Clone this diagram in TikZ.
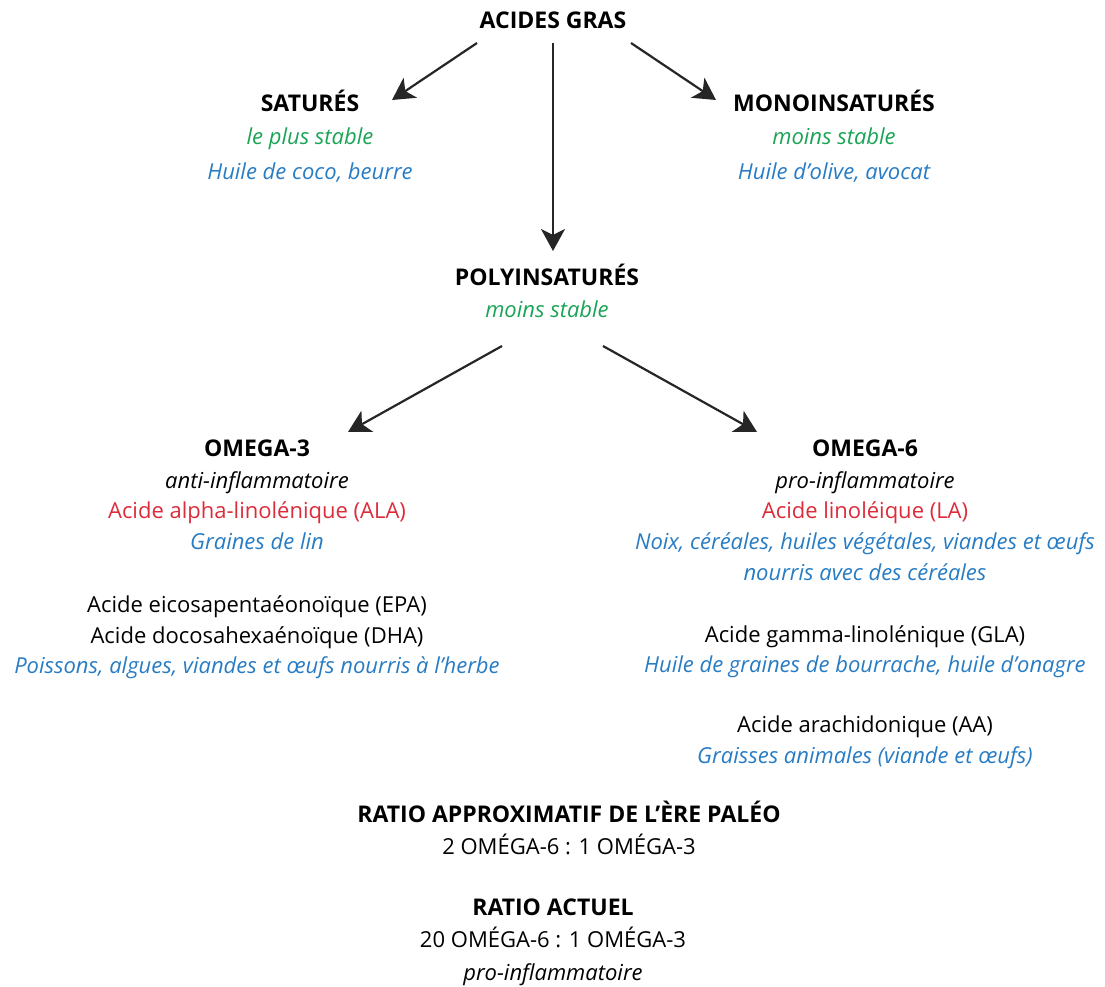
\documentclass[tikz,border=0pt]{standalone}
\usepackage{fontspec}
\setmainfont{Open Sans}
\usetikzlibrary{positioning,arrows.meta}
\definecolor{stablecolor}{RGB}{26,164,86}
\definecolor{foodcolor}{RGB}{39,124,196}
\definecolor{acidcolor}{RGB}{220,44,58}

\begin{document}
\begin{tikzpicture}[
  x=1pt, y=-1pt,
  node distance=10pt,
  head/.style={font=\fontsize{23}{26}\selectfont\bfseries, inner sep=0pt, text height=17pt, text depth=5pt},
  txt/.style={font=\fontsize{22}{24}\selectfont, inner sep=0pt, text height=15pt, text depth=5pt},
  effet/.style={txt, font=\fontsize{22}{24}\selectfont\itshape},
  stab/.style={effet, text=stablecolor},
  food/.style={effet, text=foodcolor},
  acid/.style={txt, text=acidcolor},
  arrow/.style={-{Stealth[length=22pt,width=24pt,inset=6pt]}, line width=2.2pt, draw=black!85}
]
  \useasboundingbox (0,0) rectangle (1105,987);

  % Familles
  \node[head, anchor=base] at (553,29) (acides) {ACIDES GRAS};
  \node[head, anchor=base] at (310,112) (satures) {SATURÉS};
  \node[stab, below=12pt of satures] (saturesstab) {le plus stable};
  \node[food, below=15pt of saturesstab] (saturesfood) {Huile de coco, beurre};
  \node[head, anchor=base] at (834,112) (mono) {MONOINSATURÉS};
  \node[stab, below=12pt of mono] (monostab) {moins stable};
  \node[food, below=15pt of monostab] (monofood) {Huile d’olive, avocat};
  \node[head, anchor=base] at (547,285) (poly) {POLYINSATURÉS};
  \node[stab, below=12pt of poly] (polystab) {moins stable};

  % Omega-3
  \node[head, anchor=base] at (257,456) (omega3) {OMEGA-3};
  \node[effet, below=12pt of omega3] (omega3effet) {anti-inflammatoire};
  \node[acid, below=of omega3effet] (ala) {Acide alpha-linolénique (ALA)};
  \node[food, below=of ala] (alafood) {Graines de lin};
  \node[txt, below=43pt of alafood] (epa) {Acide eicosapentaéonoïque (EPA)};
  \node[txt, below=of epa] (dha) {Acide docosahexaénoïque (DHA)};
  \node[food, below=of dha] (dhafood) {Poissons, algues, viandes et œufs nourris à l’herbe};

  % Omega-6
  \node[head, anchor=base] at (865,456) (omega6) {OMEGA-6};
  \node[effet, below=12pt of omega6] (omega6effet) {pro-inflammatoire};
  \node[acid, below=of omega6effet] (la) {Acide linoléique (LA)};
  \node[food, below=of la] (lafood) {Noix, céréales, huiles végétales, viandes et œufs};
  \node[food, below=11pt of lafood] (lafood2) {nourris avec des céréales};
  \node[txt, below=41pt of lafood2] (gla) {Acide gamma-linolénique (GLA)};
  \node[food, below=of gla] (glafood) {Huile de graines de bourrache, huile d’onagre};
  \node[txt, below=40pt of glafood] (aa) {Acide arachidonique (AA)};
  \node[food, below=of aa] (aafood) {Graisses animales (viande et œufs)};

  % Ratios
  \node[head, anchor=base] at (569,822) (paleo) {RATIO APPROXIMATIF DE L’ÈRE PALÉO};
  \node[txt, below=12pt of paleo] (paleoval) {2 OMÉGA-6 : 1 OMÉGA-3};
  \node[head, anchor=base] at (553,915) (actuel) {RATIO ACTUEL};
  \node[txt, below=12pt of actuel] (actuelval) {20 OMÉGA-6 : 1 OMÉGA-3};
  \node[effet, below=13pt of actuelval] (actueleffet) {pro-inflammatoire};

  % Fleches
  \draw[arrow] ([xshift=-76pt,yshift=-14pt]acides.base) -- ([xshift=82pt,yshift=12pt]satures.base);
  \draw[arrow] ([yshift=-14pt]acides.base) -- ([xshift=6pt,yshift=34pt]poly.base);
  \draw[arrow] ([xshift=78pt,yshift=-14pt]acides.base) -- ([xshift=-118pt,yshift=12pt]mono.base);
  \draw[arrow] ([xshift=-45pt,yshift=-61pt]poly.base) -- ([xshift=91pt,yshift=24pt]omega3.base);
  \draw[arrow] ([xshift=56pt,yshift=-61pt]poly.base) -- ([xshift=-108pt,yshift=24pt]omega6.base);

\end{tikzpicture}
\end{document}
